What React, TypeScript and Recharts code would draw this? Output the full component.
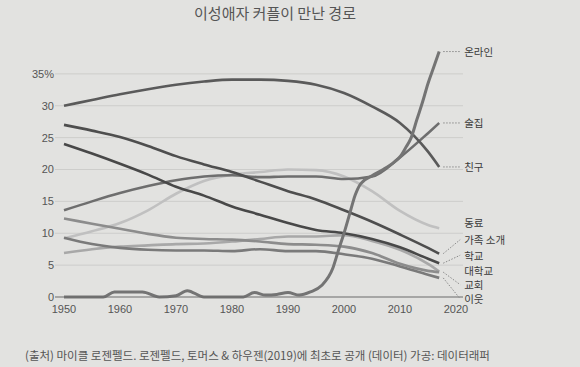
import { LabelList, Line, LineChart, ReferenceLine, XAxis, YAxis } from "recharts";

// share of heterosexual couples by how they met, %
const years = [1950, 1955, 1960, 1965, 1970, 1975, 1980, 1985, 1990, 1995, 2000, 2005, 2010, 2015, 2017];
const friends = [30.0, 30.9, 31.8, 32.6, 33.3, 33.8, 34.1, 34.1, 33.9, 33.3, 32.0, 29.9, 27.3, 22.8, 20.4];
const bar = [13.6, 15.0, 16.3, 17.4, 18.3, 18.9, 19.1, 18.8, 18.9, 18.9, 18.5, 18.9, 21.9, 25.7, 27.3];
const coworkers = [9.2, 10.3, 11.6, 13.6, 16.2, 18.2, 19.2, 19.6, 20.0, 19.9, 18.9, 16.6, 13.5, 11.3, 10.8];
const family = [27.0, 26.1, 25.1, 23.7, 22.1, 20.8, 19.6, 18.1, 16.6, 15.3, 13.6, 11.8, 9.8, 7.7, 6.8];
const school = [24.0, 22.5, 20.9, 19.2, 17.3, 15.9, 14.2, 12.9, 11.6, 10.5, 10.0, 9.1, 7.8, 6.0, 5.3];
const college = [6.9, 7.5, 7.9, 8.1, 8.3, 8.4, 8.7, 9.1, 9.5, 9.5, 9.7, 8.8, 7.4, 5.2, 4.0];
const church = [12.3, 11.5, 10.7, 9.9, 9.3, 9.1, 9.0, 8.7, 8.3, 8.2, 7.9, 6.9, 5.2, 4.1, 3.9];
const neighbors = [9.3, 8.3, 7.7, 7.4, 7.3, 7.3, 7.2, 7.5, 7.2, 7.2, 6.7, 6.0, 4.8, 3.5, 3.0];

const onlineYears = [
  1950, 1957, 1959, 1964, 1967, 1970, 1972, 1975, 1982, 1984, 1986, 1988, 1990, 1992, 1994, 1996, 1998,
  1999, 2000, 2001, 2002, 2003, 2005, 2007, 2009, 2010, 2011, 2012, 2013, 2014, 2015, 2016, 2017,
];
const online = [
  0, 0, 0.8, 0.8, 0, 0.2, 1.0, 0, 0, 0.7, 0.3, 0.4, 0.7, 0.3, 0.8, 1.8, 4.5,
  7.3, 10.0, 13.0, 16.0, 17.8, 19.0, 20.0, 21.2, 22.0, 23.4, 25.0, 27.8, 30.5, 33.5, 36.0, 38.5,
];

const xTicks = [1950, 1960, 1970, 1980, 1990, 2000, 2010, 2020];
const yTicks = [0, 5, 10, 15, 20, 25, 30, 35];

const table = years.map((year, i) => ({
  year,
  friends: friends[i],
  bar: bar[i],
  coworkers: coworkers[i],
  family: family[i],
  school: school[i],
  college: college[i],
  church: church[i],
  neighbors: neighbors[i],
}));
const onlineTable = onlineYears.map((year, i) => ({ year, online: online[i] }));

interface SeriesStyle {
  key: string;
  label: string;
  color: string;
  width: number;
  /** vertical shift of the end label from the last point */
  labelDy: number;
  leader: boolean;
}

// draw order: light lines first so the dark ones sit on top
const series: SeriesStyle[] = [
  { key: "coworkers", label: "동료", color: "#c0c0c0", width: 2.6, labelDy: -6, leader: false },
  { key: "college", label: "대학교", color: "#a8a8a8", width: 2.6, labelDy: -1.5, leader: false },
  { key: "church", label: "교회", color: "#8c8c8c", width: 2.6, labelDy: 12.5, leader: true },
  { key: "neighbors", label: "이웃", color: "#7a7a7a", width: 2.6, labelDy: 21, leader: true },
  { key: "bar", label: "술집", color: "#6e6e6e", width: 2.6, labelDy: 0, leader: true },
  { key: "family", label: "가족 소개", color: "#4e4e4e", width: 2.6, labelDy: -14, leader: true },
  { key: "school", label: "학교", color: "#484848", width: 2.6, labelDy: -8, leader: true },
  { key: "friends", label: "친구", color: "#5a5a5a", width: 2.6, labelDy: 0, leader: true },
];
const onlineStyle: SeriesStyle = { key: "online", label: "온라인", color: "#747474", width: 3, labelDy: 0, leader: true };

const font = "'Noto Sans CJK KR', 'Noto Sans', sans-serif";
const tickFont = "'Liberation Sans Narrow', 'Liberation Sans', sans-serif";

function endLabel(s: SeriesStyle, lastIndex: number) {
  return (props: any) => {
    if (props.index !== lastIndex) return null;
    const x = Number(props.x);
    const y = Number(props.y);
    const ty = y + s.labelDy;
    return (
      <g>
        {s.leader && (
          <line x1={x + 4} y1={y} x2={x + 21} y2={ty} stroke="#8a8a8a" strokeWidth={1} strokeDasharray="1.5 1.5" />
        )}
        <text x={x + 25} y={ty} dominantBaseline="central" fontSize={10.5} fill="#3a3a3a" fontFamily={font}>
          {s.label}
        </text>
      </g>
    );
  };
}

export default function App() {
  return (
    <div style={{ position: "relative", width: 580, height: 367, background: "#e2e2e0", overflow: "hidden" }}>
      <style>{"body{margin:0;background:#e2e2e0}"}</style>
      <div
        style={{
          position: "absolute",
          top: 2,
          left: 0,
          width: 550,
          textAlign: "center",
          fontFamily: font,
          fontSize: 15,
          color: "#555",
        }}
      >
        이성애자 커플이 만난 경로
      </div>
      <LineChart
        width={580}
        height={367}
        data={table}
        margin={{ top: 42, right: 117, bottom: 50, left: 0 }}
      >
        <XAxis
          dataKey="year"
          type="number"
          domain={[1950, 2020]}
          ticks={xTicks}
          padding={{ left: 9, right: 7 }}
          height={20}
          axisLine={{ stroke: "#6a6a6a", strokeWidth: 1.2 }}
          tickLine={false}
          tick={{ fill: "#555", fontSize: 11, fontFamily: tickFont }}
        />
        <YAxis
          type="number"
          domain={[0, 40]}
          ticks={yTicks}
          width={55}
          axisLine={false}
          tickLine={false}
          tickSize={0}
          tickMargin={1}
          tickFormatter={(v: number) => (v === 35 ? "35%" : String(v))}
          tick={{ fill: "#555", fontSize: 11, fontFamily: tickFont }}
        />
        {yTicks
          .filter((t) => t > 0)
          .map((t) => (
            <ReferenceLine key={t} y={t} stroke="#cdcdcb" strokeWidth={1} />
          ))}
        {series.map((s) => (
          <Line
            key={s.key}
            dataKey={s.key}
            type="monotone"
            stroke={s.color}
            strokeWidth={s.width}
            dot={false}
            activeDot={false}
            isAnimationActive={false}
          >
            <LabelList dataKey={s.key} content={endLabel(s, table.length - 1)} />
          </Line>
        ))}
        <Line
          data={onlineTable}
          dataKey="online"
          type="monotone"
          stroke={onlineStyle.color}
          strokeWidth={onlineStyle.width}
          dot={false}
          activeDot={false}
          isAnimationActive={false}
        >
          <LabelList dataKey="online" content={endLabel(onlineStyle, onlineTable.length - 1)} />
        </Line>
      </LineChart>
      <div
        style={{
          position: "absolute",
          top: 347,
          left: 25,
          fontFamily: font,
          fontSize: 11.5,
          color: "#555",
          whiteSpace: "nowrap",
        }}
      >
        (출처) 마이클 로젠펠드. 로젠펠드, 토머스 &amp; 하우젠(2019)에 최초로 공개 (데이터) 가공: 데이터래퍼
      </div>
    </div>
  );
}
